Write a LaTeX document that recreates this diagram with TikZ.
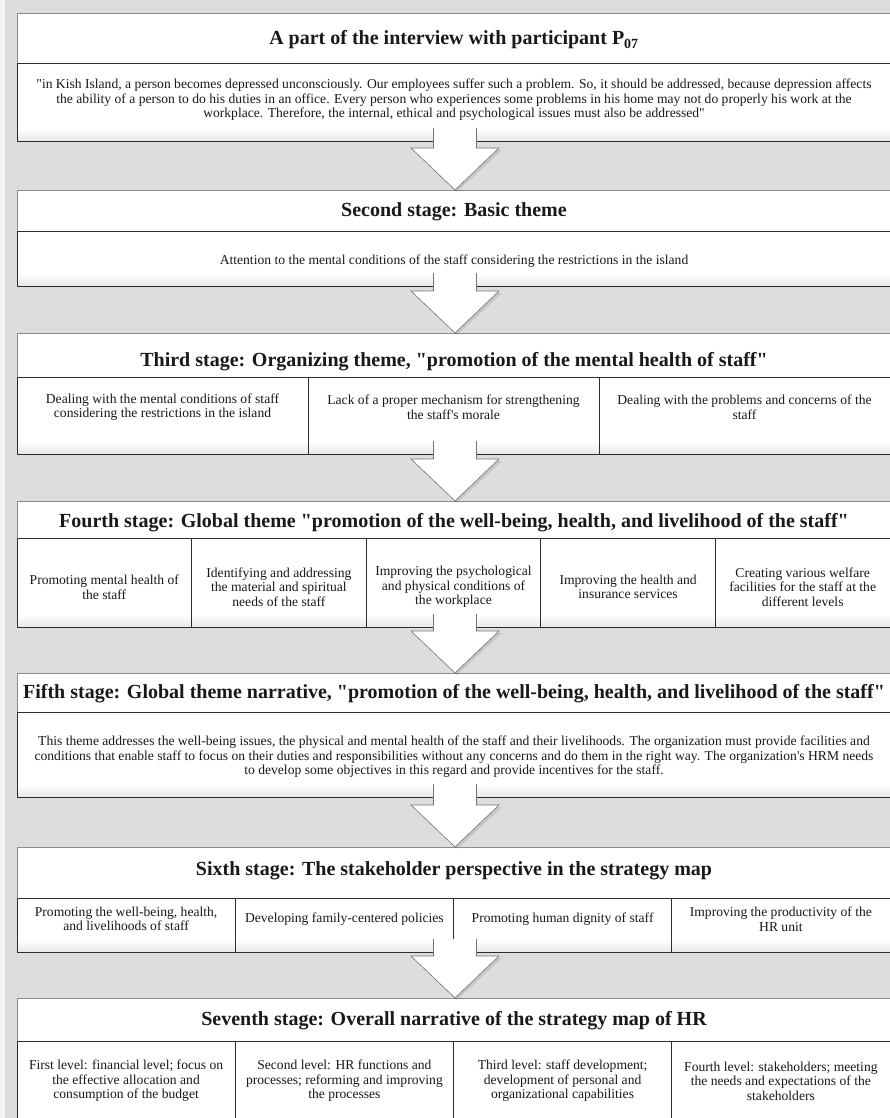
\documentclass[tikz,border=0pt]{standalone}
\usepackage{fontspec}
\setmainfont{Liberation Serif}[Ligatures=TeXOff]
\usetikzlibrary{calc}
\definecolor{bg}{RGB}{220,221,223}
\definecolor{edge}{RGB}{45,45,45}
\definecolor{hedge}{RGB}{140,140,140}
\definecolor{ink}{RGB}{25,25,25}
\newcommand\bandfor[1]{\shade[top color=white,bottom color=black!9] ($(#1.south west)+(0,-13)$) rectangle (#1.south east);}
\newcommand\blockarr[2]{%
  \coordinate (bs) at (#1.south);
  \coordinate (tp) at (#1.south |- #2.north);
  \fill[black,opacity=0.10] ($(tp)+(2,2)$) -- ($(tp)+(47,-40)$) -- ($(tp)+(-41,-40)$) -- cycle;
  \fill[white] ($(bs)+(-21.5,-13)$) -- ($(tp)+(-21.5,-42)$) -- ($(tp)+(-44,-42)$) -- (tp) -- ($(tp)+(44,-42)$) -- ($(tp)+(21.5,-42)$) -- ($(bs)+(21.5,-13)$) -- cycle;
  \draw[aline] ($(bs)+(-21.5,-13)$) -- ($(tp)+(-21.5,-42)$) -- ($(tp)+(-44,-42)$) -- (tp) -- ($(tp)+(44,-42)$) -- ($(tp)+(21.5,-42)$) -- ($(bs)+(21.5,-13)$);
}
\begin{document}
\begin{tikzpicture}[x=1pt,y=-1pt,
  hbox/.style={rectangle, draw=hedge, fill=white, line width=0.8pt, minimum width=876, inner sep=0pt, outer sep=0pt},
  bbox/.style={rectangle, fill=white, minimum width=876, inner sep=0pt, outer sep=0pt},
  cellfr/.style={rectangle, draw=edge, line width=0.9pt, inner sep=0pt, outer sep=0pt},
  edgeline/.style={draw=edge, line width=0.9pt},
  aline/.style={draw=black!55, line width=0.6pt, line join=miter},
  ttl/.style={font=\fontsize{20}{24}\selectfont\bfseries, text=ink, inner sep=0pt},
  txt/.style={font=\fontsize{13.6}{14.6}\selectfont, text=ink, align=center, inner sep=0pt}
]
\useasboundingbox (0,0) rectangle (890,1118);
\fill[bg] (0,0) rectangle (890,1118);
\fill[black!4] (0,0) rectangle (5,1118);

% ---------- Box 1
\node[hbox, anchor=north west, minimum height=50] (h1) at (17,13) {};
\node[bbox, anchor=north west, minimum height=78] (b1) at (17,63) {};
\bandfor{b1}
\draw[edgeline] (b1.north west) rectangle (b1.south east);
\node[ttl] (t1) at (454,40) {A part of the interview with participant P\textsubscript{07}};
\node[txt] (x1) at (454,100) {"in Kish Island, a person becomes depressed unconsciously. Our employees suffer such a problem. So, it should be addressed, because depression affects\\the ability of a person to do his duties in an office. Every person who experiences some problems in his home may not do properly his work at the\\workplace. Therefore, the internal, ethical and psychological issues must also be addressed"};

% ---------- Box 2
\node[hbox, anchor=north west, minimum height=41] (h2) at (17,190) {};
\node[bbox, anchor=north west, minimum height=55] (b2) at (17,231) {};
\bandfor{b2}
\draw[edgeline] (b2.north west) rectangle (b2.south east);
\node[ttl] (t2) at (454,212) {Second stage: Basic theme};
\node[txt] (x2) at (454,261) {Attention to the mental conditions of the staff considering the restrictions in the island};

% ---------- Box 3
\node[hbox, anchor=north west, minimum height=44] (h3) at (17,333) {};
\node[bbox, anchor=north west, minimum height=77] (b3) at (17,377) {};
\bandfor{b3}
\node[cellfr, anchor=north west, minimum width=291, minimum height=77] (c3a) at (17,377) {};
\node[cellfr, anchor=north west, minimum width=291, minimum height=77] (c3b) at (308,377) {};
\node[cellfr, anchor=north west, minimum width=294, minimum height=77] (c3c) at (599,377) {};
\node[ttl] (t3) at (454,362) {Third stage: Organizing theme, "promotion of the mental health of staff"};
\node[txt] (x3a) at (162.5,407) {Dealing with the mental conditions of staff\\considering the restrictions in the island};
\node[txt] (x3b) at (453.5,407) {Lack of a proper mechanism for strengthening\\the staff's morale};
\node[txt] (x3c) at (744.5,407) {Dealing with the problems and concerns of the\\staff};

% ---------- Box 4
\node[hbox, anchor=north west, minimum height=37] (h4) at (17,501) {};
\node[bbox, anchor=north west, minimum height=89] (b4) at (17,538) {};
\bandfor{b4}
\node[cellfr, anchor=north west, minimum width=174.6, minimum height=89] (c4a) at (17,538) {};
\node[cellfr, anchor=north west, minimum width=174.6, minimum height=89] (c4b) at (191.6,538) {};
\node[cellfr, anchor=north west, minimum width=174.6, minimum height=89] (c4c) at (366.2,538) {};
\node[cellfr, anchor=north west, minimum width=174.6, minimum height=89] (c4d) at (540.8,538) {};
\node[cellfr, anchor=north west, minimum width=177.6, minimum height=89] (c4e) at (715.4,538) {};
\node[ttl] (t4) at (454,523) {Fourth stage: Global theme "promotion of the well-being, health, and livelihood of the staff"};
\node[txt] (x4a) at (104.3,587) {Promoting mental health of\\the staff};
\node[txt] (x4b) at (278.9,587) {Identifying and addressing\\the material and spiritual\\needs of the staff};
\node[txt] (x4c) at (453.5,587) {Improving the psychological\\and physical conditions of\\the workplace};
\node[txt] (x4d) at (628.1,587) {Improving the health and\\insurance services};
\node[txt] (x4e) at (802.7,587) {Creating various welfare\\facilities for the staff at the\\different levels};

% ---------- Box 5
\node[hbox, anchor=north west, minimum height=39] (h5) at (17,673) {};
\node[bbox, anchor=north west, minimum height=85] (b5) at (17,712) {};
\bandfor{b5}
\draw[edgeline] (b5.north west) rectangle (b5.south east);
\node[ttl] (t5) at (454,694) {Fifth stage: Global theme narrative, "promotion of the well-being, health, and livelihood of the staff"};
\node[txt] (x5) at (454,757) {This theme addresses the well-being issues, the physical and mental health of the staff and their livelihoods. The organization must provide facilities and\\conditions that enable staff to focus on their duties and responsibilities without any concerns and do them in the right way. The organization's HRM needs\\to develop some objectives in this regard and provide incentives for the staff.};

% ---------- Box 6
\node[hbox, anchor=north west, minimum height=51] (h6) at (17,847) {};
\node[bbox, anchor=north west, minimum height=54] (b6) at (17,898) {};
\bandfor{b6}
\node[cellfr, anchor=north west, minimum width=218.25, minimum height=54] (c6a) at (17,898) {};
\node[cellfr, anchor=north west, minimum width=218.25, minimum height=54] (c6b) at (235.25,898) {};
\node[cellfr, anchor=north west, minimum width=218.25, minimum height=54] (c6c) at (453.5,898) {};
\node[cellfr, anchor=north west, minimum width=221.25, minimum height=54] (c6d) at (671.75,898) {};
\node[ttl] (t6) at (454,871) {Sixth stage: The stakeholder perspective in the strategy map};
\node[txt] (x6a) at (126.1,919) {Promoting the well-being, health,\\and livelihoods of staff};
\node[txt] (x6b) at (344.4,919) {Developing family-centered policies};
\node[txt] (x6c) at (562.6,919) {Promoting human dignity of staff};
\node[txt] (x6d) at (780.9,919) {Improving the productivity of the\\HR unit};

% ---------- Box 7
\node[hbox, anchor=north west, minimum height=43] (h7) at (17,998) {};
\node[bbox, anchor=north west, minimum height=90] (b7) at (17,1041) {};
\node[cellfr, anchor=north west, minimum width=218.25, minimum height=90] (c7a) at (17,1041) {};
\node[cellfr, anchor=north west, minimum width=218.25, minimum height=90] (c7b) at (235.25,1041) {};
\node[cellfr, anchor=north west, minimum width=218.25, minimum height=90] (c7c) at (453.5,1041) {};
\node[cellfr, anchor=north west, minimum width=221.25, minimum height=90] (c7d) at (671.75,1041) {};
\node[ttl] (t7) at (454,1021) {Seventh stage: Overall narrative of the strategy map of HR};
\node[txt] (x7a) at (126.1,1081) {First level: financial level; focus on\\the effective allocation and\\consumption of the budget};
\node[txt] (x7b) at (344.4,1081) {Second level: HR functions and\\processes; reforming and improving\\the processes};
\node[txt] (x7c) at (562.6,1081) {Third level: staff development;\\development of personal and\\organizational capabilities};
\node[txt] (x7d) at (780.9,1081) {Fourth level: stakeholders; meeting\\the needs and expectations of the\\stakeholders};

% ---------- block arrows
\blockarr{b1}{h2}
\blockarr{b2}{h3}
\blockarr{b3}{h4}
\blockarr{b4}{h5}
\blockarr{b5}{h6}
\blockarr{b6}{h7}
\end{tikzpicture}
\end{document}
